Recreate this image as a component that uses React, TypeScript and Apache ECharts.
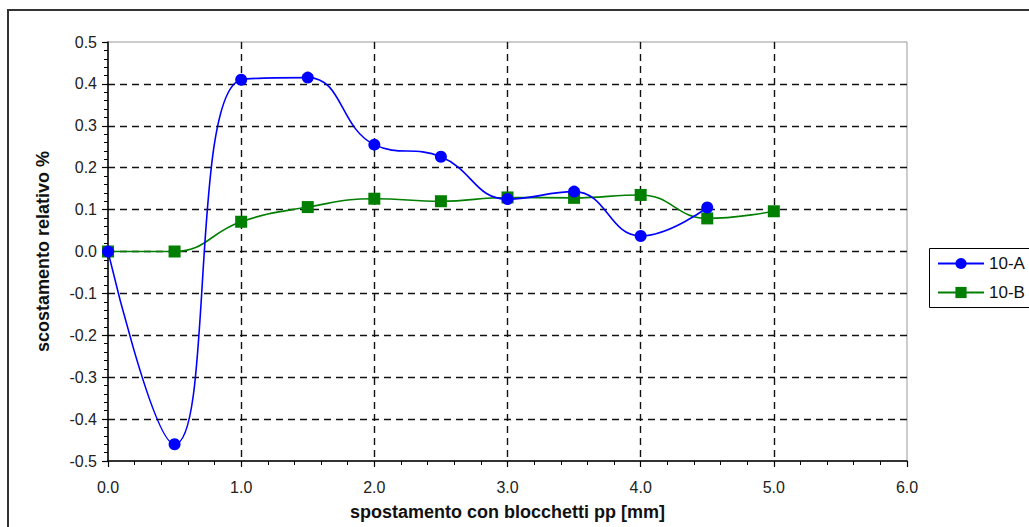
import React, { useEffect, useRef } from "react";
import * as echarts from "echarts";

const xValues = [0, 0.5, 1.0, 1.5, 2.0, 2.5, 3.0, 3.5, 4.0, 4.5, 5.0];
const values10A = [0, -0.46, 0.41, 0.415, 0.255, 0.226, 0.125, 0.143, 0.037, 0.105];
const values10B = [0, 0, 0.071, 0.106, 0.126, 0.12, 0.129, 0.128, 0.135, 0.079, 0.096];
const seriesNames = ["10-A", "10-B"];
const xAxisTitle = "spostamento con blocchetti pp [mm]";
const yAxisTitle = "scostamento relativo %";

const fmt = (v: number) => (Math.abs(v) < 1e-9 ? "0.0" : v.toFixed(1));

export default function App() {
  const ref = useRef<HTMLDivElement>(null);
  useEffect(() => {
    if (!ref.current) return;
    const chart = echarts.init(ref.current, null, { renderer: "svg" });
    const font = "'Liberation Sans', Arial, sans-serif";
    const gridDash = { color: "#111", width: 1.4, type: [7, 5] as number[] };
    chart.setOption({
      animation: false,
      textStyle: { fontFamily: font },
      graphic: [
        {
          type: "rect",
          shape: { x: 8, y: 10, width: 1100, height: 600 },
          style: { fill: "none", stroke: "#333", lineWidth: 2 },
          silent: true,
        },
        {
          type: "rect",
          shape: { x: 929.5, y: 248.5, width: 200, height: 59 },
          style: { fill: "none", stroke: "#000", lineWidth: 1 },
          silent: true,
        },
      ],
      grid: {
        left: 108,
        top: 42,
        width: 799,
        height: 419,
        show: true,
        borderColor: "#999",
        borderWidth: 1,
        backgroundColor: "transparent",
      },
      legend: {
        orient: "vertical",
        left: 929,
        top: 248,
        padding: [7, 8, 7, 8],
        itemWidth: 46,
        itemHeight: 14,
        itemGap: 12,
        textStyle: { fontSize: 17, color: "#111", fontFamily: font },
        data: seriesNames,
      },
      xAxis: {
        type: "value",
        min: 0,
        max: 6,
        interval: 1,
        name: xAxisTitle,
        nameLocation: "middle",
        nameGap: 42,
        nameTextStyle: { fontSize: 18, fontWeight: "bold", color: "#111", fontFamily: font },
        axisLine: { show: true, onZero: false, lineStyle: { color: "#000", width: 1.5 } },
        axisTick: { show: true, length: 6, lineStyle: { color: "#000", width: 1.2 } },
        minorTick: { show: true, splitNumber: 5, length: 4, lineStyle: { color: "#000", width: 1 } },
        axisLabel: { fontSize: 16, color: "#222", margin: 18, formatter: fmt },
        splitLine: { show: true, showMinLine: false, showMaxLine: false, lineStyle: gridDash },
      },
      yAxis: {
        type: "value",
        min: -0.5,
        max: 0.5,
        interval: 0.1,
        name: yAxisTitle,
        nameLocation: "middle",
        nameRotate: 90,
        nameGap: 56,
        nameTextStyle: { fontSize: 18, fontWeight: "bold", color: "#111", fontFamily: font },
        axisLine: { show: true, onZero: false, lineStyle: { color: "#000", width: 1.5 } },
        axisTick: { show: true, length: 6, lineStyle: { color: "#000", width: 1.2 } },
        minorTick: { show: true, splitNumber: 5, length: 4, lineStyle: { color: "#000", width: 1 } },
        axisLabel: { fontSize: 16, color: "#222", margin: 11, formatter: fmt },
        splitLine: { show: true, showMinLine: false, showMaxLine: false, lineStyle: gridDash },
      },
      series: [
        {
          name: seriesNames[0],
          type: "line",
          smooth: 0.45,
          symbol: "circle",
          symbolSize: 12,
          data: values10A.map((v, i) => [xValues[i], v]),
          lineStyle: { color: "#0000ff", width: 1.6 },
          itemStyle: { color: "#0000ff" },
          z: 3,
        },
        {
          name: seriesNames[1],
          type: "line",
          smooth: 0.45,
          symbol: "rect",
          symbolSize: 12,
          data: values10B.map((v, i) => [xValues[i], v]),
          lineStyle: { color: "#007f00", width: 1.6 },
          itemStyle: { color: "#007f00" },
          z: 2,
        },
      ],
    });
    return () => chart.dispose();
  }, []);
  return (
    <div
      ref={ref}
      style={{ position: "absolute", left: 0, top: 0, width: 1029, height: 527, background: "#fff" }}
    />
  );
}
